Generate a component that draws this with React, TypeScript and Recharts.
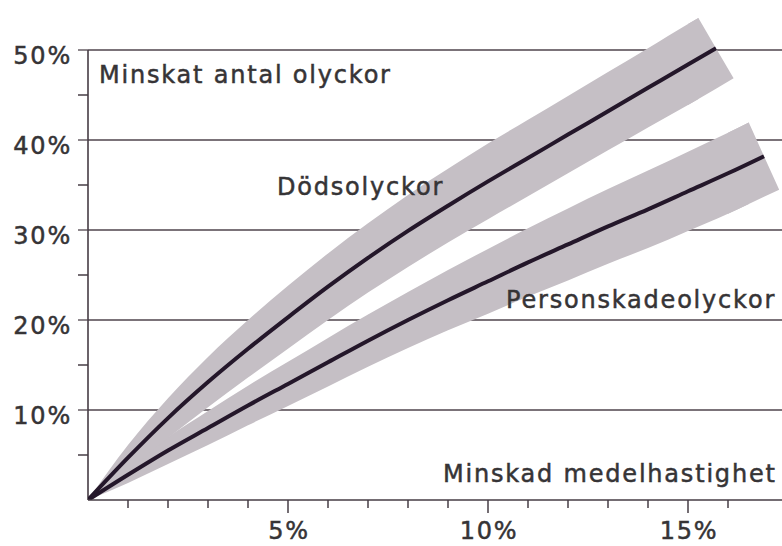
import React from "react";
import {
  ComposedChart,
  Line,
  Area,
  XAxis,
  YAxis,
  CartesianGrid,
  ReferenceLine,
} from "recharts";

// ---- data ----
const xPoints = [0, 1, 2, 3, 4, 5, 6, 7, 8, 9, 10, 11, 12, 13, 14, 15, 16];

// Dödsolyckor (fatal accidents) reduction, % (x = 0..15)
const dodsolyckor = [0, 4.7, 9.1, 13.1, 16.8, 20.3, 23.7, 26.9, 29.9, 32.7, 35.4, 38.0, 40.6, 43.2, 45.8, 48.4];
const dodsHalfBand = [0, 1.4, 2.2, 2.8, 3.2, 3.5, 3.7, 3.85, 4.0, 4.1, 4.2, 4.25, 4.3, 4.35, 4.4, 4.5];
const dodsLineEnd = { x: 15.7, y: 50.2 };
const dodsBandEnd = [
  { x: 15.26, low: 44.55, high: 53.55 },
  { x: 15.7, low: 45.7, high: 50.2 },
  { x: 16.14, low: 46.85, high: 46.85 },
];

// Personskadeolyckor (injury accidents) reduction, % (x = 0..16)
const personskadeolyckor = [0, 2.8, 5.5, 8.0, 10.5, 12.9, 15.3, 17.7, 20.0, 22.2, 24.3, 26.4, 28.4, 30.4, 32.3, 34.3, 36.3];
const personHalfBand = [0, 0.9, 1.5, 1.9, 2.2, 2.45, 2.7, 2.9, 3.1, 3.35, 3.6, 3.8, 4.0, 4.15, 4.3, 4.4, 4.5];
const personLineEnd = { x: 16.9, y: 38.2 };
const personBandEnd = [
  { x: 16.52, low: 32.9, high: 41.94 },
  { x: 16.9, low: 33.7, high: 38.2 },
  { x: 17.28, low: 34.46, high: 34.46 },
];

const xTicks = [1, 2, 3, 4, 5, 6, 7, 8, 9, 10, 11, 12, 13, 14, 15, 16];
const xLabelTicks = [5, 10, 15];
const yTicks = [5, 10, 15, 20, 25, 30, 35, 40, 45, 50];
const yLabelTicks = [10, 20, 30, 40, 50];
const gridValues = [10, 20, 30, 40, 50];

const texts = {
  yTitle: "Minskat antal olyckor",
  xTitle: "Minskad medelhastighet",
  dods: "Dödsolyckor",
  person: "Personskadeolyckor",
};

// ---- derived tables ----
const bandRow = (x: number, c: number, h: number) => ({ x, band: [c - h, c + h] });

const dodsLine = [
  ...dodsolyckor.map((y, i) => ({ x: xPoints[i], y })),
  { x: dodsLineEnd.x, y: dodsLineEnd.y },
];
const dodsBandMain = [
  ...dodsolyckor.map((y, i) => bandRow(xPoints[i], y, dodsHalfBand[i])),
  { x: dodsBandEnd[0].x, band: [dodsBandEnd[0].low, dodsBandEnd[0].high] },
];
const dLast = dodsolyckor.length - 1;
const dodsBandCap = [
  bandRow(xPoints[dLast], dodsolyckor[dLast], dodsHalfBand[dLast]),
  ...dodsBandEnd.map((p) => ({ x: p.x, band: [p.low, p.high] })),
];

const personLine = [
  ...personskadeolyckor.map((y, i) => ({ x: xPoints[i], y })),
  { x: personLineEnd.x, y: personLineEnd.y },
];
const personBandMain = [
  ...personskadeolyckor.map((y, i) => bandRow(xPoints[i], y, personHalfBand[i])),
  { x: personBandEnd[0].x, band: [personBandEnd[0].low, personBandEnd[0].high] },
];
const pLast = personskadeolyckor.length - 1;
const personBandCap = [
  bandRow(xPoints[pLast], personskadeolyckor[pLast], personHalfBand[pLast]),
  ...personBandEnd.map((p) => ({ x: p.x, band: [p.low, p.high] })),
];

const FONT = "'DejaVu Sans', Verdana, sans-serif";
const TEXT_COLOR = "#363436";
const AXIS_COLOR = "#463c44";
const GRID_COLOR = "#4f454c";
const BAND_COLOR = "#c5bfc5";
const LINE_COLOR = "#24172a";

const textStyle: React.CSSProperties = {
  fontFamily: FONT,
  fontSize: 24,
  letterSpacing: 1.8,
};

const XTick = (props: any) => {
  const { x, y, payload } = props;
  const major = xLabelTicks.includes(payload.value);
  return (
    <g>
      <line x1={x} x2={x} y1={y} y2={y + (major ? 13 : 8)} stroke={AXIS_COLOR} strokeWidth={1.5} />
      {major && (
        <text
          x={x + 1}
          y={y + 39}
          textAnchor="middle"
          fill={TEXT_COLOR}
          stroke={TEXT_COLOR}
          strokeWidth={0.5}
          style={textStyle}
        >
          {payload.value + "%"}
        </text>
      )}
    </g>
  );
};

const YTick = (props: any) => {
  const { x, y, payload } = props;
  const major = yLabelTicks.includes(payload.value);
  return (
    <g>
      <line
        x1={x - 10}
        x2={x}
        y1={y}
        y2={y}
        stroke={major ? GRID_COLOR : AXIS_COLOR}
        strokeWidth={major ? 1.3 : 1.5}
      />
      {major && (
        <text
          x={x - 16}
          y={y + 14}
          textAnchor="end"
          fill={TEXT_COLOR}
          stroke={TEXT_COLOR}
          strokeWidth={0.5}
          style={textStyle}
        >
          {payload.value + "%"}
        </text>
      )}
    </g>
  );
};

const bandProps = {
  stroke: "none",
  fill: BAND_COLOR,
  fillOpacity: 1,
  isAnimationActive: false,
  activeDot: false,
  dataKey: "band",
} as const;

export default function App() {
  return (
    <div style={{ position: "absolute", left: 0, top: 0, width: 782, height: 546, background: "#fff" }}>
      <ComposedChart width={782} height={546} margin={{ top: 5, right: 0, bottom: 0, left: 0 }}>
        <XAxis
          type="number"
          dataKey="x"
          domain={[0, 17.35]}
          ticks={xTicks}
          interval={0}
          allowDataOverflow
          height={46}
          tickLine={false}
          tickSize={0}
          tickMargin={0}
          axisLine={{ stroke: AXIS_COLOR, strokeWidth: 1.6 }}
          tick={(p: any) => <XTick {...p} />}
        />
        <YAxis
          type="number"
          domain={[0, 55]}
          ticks={yTicks}
          interval={0}
          allowDataOverflow
          width={88}
          tickLine={false}
          tickSize={0}
          tickMargin={0}
          axisLine={false}
          tick={(p: any) => <YTick {...p} />}
        />
        <CartesianGrid
          vertical={false}
          horizontalValues={gridValues}
          stroke={GRID_COLOR}
          strokeWidth={1.3}
        />
        <ReferenceLine
          segment={[
            { x: 0, y: 0 },
            { x: 0, y: 50 },
          ]}
          stroke={AXIS_COLOR}
          strokeWidth={1.6}
        />
        <Area data={personBandMain} type="monotone" {...bandProps} />
        <Area data={personBandCap} type="linear" {...bandProps} />
        <Area data={dodsBandMain} type="monotone" {...bandProps} />
        <Area data={dodsBandCap} type="linear" {...bandProps} />
        <Line
          data={personLine}
          dataKey="y"
          type="monotone"
          stroke={LINE_COLOR}
          strokeWidth={4}
          dot={false}
          activeDot={false}
          isAnimationActive={false}
        />
        <Line
          data={dodsLine}
          dataKey="y"
          type="monotone"
          stroke={LINE_COLOR}
          strokeWidth={4}
          dot={false}
          activeDot={false}
          isAnimationActive={false}
        />
      </ComposedChart>
      <svg
        width={782}
        height={546}
        style={{ position: "absolute", left: 0, top: 0, pointerEvents: "none" }}
      >
        <g fill={TEXT_COLOR} stroke={TEXT_COLOR} strokeWidth={0.5} style={textStyle}>
          <text x={99} y={83}>{texts.yTitle}</text>
          <text x={277} y={195}>{texts.dods}</text>
          <text x={506} y={308}>{texts.person}</text>
          <text x={443} y={482}>{texts.xTitle}</text>
        </g>
      </svg>
    </div>
  );
}
